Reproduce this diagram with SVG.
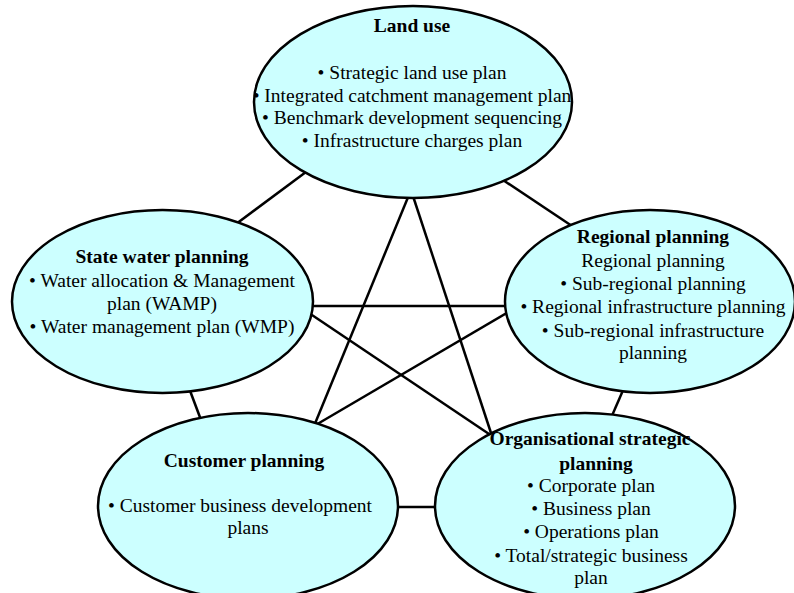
<svg xmlns="http://www.w3.org/2000/svg" width="794" height="593" viewBox="0 0 794 593">
  <style>
    .node ellipse { fill: #CCFFFF; stroke: #000; stroke-width: 2.5; }
    .edge { stroke: #000; stroke-width: 2.5; fill: none; }
    text { font-family: "Liberation Serif", "Times New Roman", serif; font-size: 19.5px; fill: #000; text-anchor: middle; }
    .title { font-weight: bold; }
  </style>
  <rect width="794" height="593" fill="#fff"/>

  <!-- connectors (complete graph between the five planning areas); ends tuck under the ellipses -->
  <g id="connectors">
    <line class="edge" x1="310" y1="169" x2="232" y2="227"/>
    <line class="edge" x1="500" y1="178" x2="575" y2="228"/>
    <line class="edge" x1="411" y1="190" x2="314" y2="426"/>
    <line class="edge" x1="411" y1="190" x2="492" y2="436"/>
    <line class="edge" x1="308" y1="306" x2="510" y2="306"/>
    <line class="edge" x1="306" y1="311" x2="492" y2="436"/>
    <line class="edge" x1="189" y1="388" x2="201" y2="420"/>
    <line class="edge" x1="510" y1="311" x2="314" y2="426"/>
    <line class="edge" x1="624" y1="388" x2="611" y2="418"/>
    <line class="edge" x1="394" y1="507" x2="440" y2="507"/>
  </g>

  <g id="land-use" class="node">
    <ellipse cx="413" cy="102" rx="159" ry="96"/>
    <text class="title" x="412" y="32">Land use</text>
    <text x="412" y="79">• Strategic land use plan</text>
    <text x="412" y="102">• Integrated catchment management plan</text>
    <text x="412" y="124">• Benchmark development sequencing</text>
    <text x="412" y="147">• Infrastructure charges plan</text>
  </g>

  <g id="state-water-planning" class="node">
    <ellipse cx="162.5" cy="301.5" rx="150.5" ry="91.5"/>
    <text class="title" x="162" y="263">State water planning</text>
    <text x="162" y="287">• Water allocation &amp; Management</text>
    <text x="162" y="310">plan (WAMP)</text>
    <text x="162" y="333">• Water management plan (WMP)</text>
  </g>

  <g id="regional-planning" class="node">
    <ellipse cx="650" cy="301.5" rx="145" ry="91.5"/>
    <text class="title" x="653" y="243">Regional planning</text>
    <text x="653" y="267">Regional planning</text>
    <text x="653" y="290">• Sub-regional planning</text>
    <text x="653" y="313">• Regional infrastructure planning</text>
    <text x="653" y="337">• Sub-regional infrastructure</text>
    <text x="653" y="359">planning</text>
  </g>

  <g id="customer-planning" class="node">
    <ellipse cx="248" cy="506" rx="150" ry="93"/>
    <text class="title" x="244" y="467">Customer planning</text>
    <text x="240" y="512">• Customer business development</text>
    <text x="248" y="534">plans</text>
  </g>

  <g id="organisational-strategic-planning" class="node">
    <ellipse cx="585" cy="506" rx="150" ry="93"/>
    <text class="title" x="590" y="445">Organisational strategic</text>
    <text class="title" x="596" y="470">planning</text>
    <text x="591" y="492">• Corporate plan</text>
    <text x="591" y="515">• Business plan</text>
    <text x="591" y="538">• Operations plan</text>
    <text x="591" y="562">• Total/strategic business</text>
    <text x="591" y="584">plan</text>
  </g>
</svg>
